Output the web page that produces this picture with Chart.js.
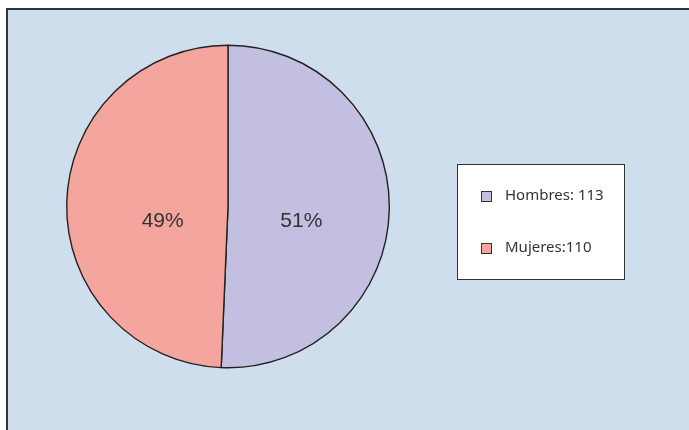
<!DOCTYPE html>
<html>
<head>
<meta charset="utf-8">
<script src="https://cdn.jsdelivr.net/npm/chart.js@4.4.0/dist/chart.umd.min.js"></script>
<style>
  html, body { margin: 0; padding: 0; background: #ffffff; }
  #wrap { width: 689px; height: 430px; }
</style>
</head>
<body>
<div id="wrap"><canvas id="graph" width="689" height="430"></canvas></div>
<script>
// pacientes por sexo
const categories = ["Hombres", "Mujeres"];
const legendTexts = ["Hombres: 113", "Mujeres:110"];
const values = [113, 110];
const sliceColors = ["#c3bfe0", "#f4a69e"];

// fondo azul con marco
const framePlugin = {
    id: "frame",
    beforeDraw(chart) {
        const ctx = chart.ctx;
        ctx.save();
        ctx.fillStyle = "#ffffff";
        ctx.fillRect(0, 0, chart.width, chart.height);
        ctx.fillStyle = "#cfdeed";
        ctx.fillRect(7, 9, chart.width - 7, chart.height - 9);
        ctx.strokeStyle = "#333333";
        ctx.lineWidth = 2;
        ctx.beginPath();
        ctx.moveTo(7, chart.height);
        ctx.lineTo(7, 9);
        ctx.lineTo(chart.width, 9);
        ctx.stroke();
        ctx.restore();
    }
};

// porcentajes dentro de cada sector y leyenda en recuadro
const labelsPlugin = {
    id: "sliceLabels",
    afterDraw(chart) {
        const ctx = chart.ctx;
        const meta = chart.getDatasetMeta(0);
        const data = chart.data.datasets[0].data;
        const total = data.reduce((a, b) => a + b, 0);
        ctx.save();
        ctx.fillStyle = "#333333";
        ctx.font = "21px 'Liberation Sans', Arial, sans-serif";
        ctx.textAlign = "center";
        ctx.textBaseline = "middle";
        meta.data.forEach((arc, i) => {
            const mid = (arc.startAngle + arc.endAngle) / 2;
            const x = arc.x + Math.cos(mid) * arc.outerRadius * 0.43 + 4;
            const y = arc.y + 15;
            ctx.fillText(Math.round(data[i] / total * 100) + "%", x, y);
        });

        // recuadro de la leyenda
        ctx.fillStyle = "#ffffff";
        ctx.fillRect(457, 164, 167, 115);
        ctx.strokeStyle = "#333333";
        ctx.lineWidth = 1;
        ctx.strokeRect(457.5, 164.5, 167, 115);
        ctx.font = "15px 'Noto Sans', sans-serif";
        ctx.textAlign = "left";
        ctx.textBaseline = "middle";
        legendTexts.forEach((t, i) => {
            const y = 196 + i * 52;
            ctx.fillStyle = sliceColors[i];
            ctx.fillRect(481.5, y - 4.5, 10, 10);
            ctx.strokeStyle = "#333333";
            ctx.strokeRect(481.5, y - 4.5, 10, 10);
            ctx.fillStyle = "#333333";
            ctx.fillText(t, 505, y);
        });
        ctx.restore();
    }
};

new Chart(document.getElementById("graph"), {
    type: "pie",
    data: {
        labels: categories,
        datasets: [{
            data: values,
            backgroundColor: sliceColors,
            borderColor: "#222222",
            borderWidth: 1.4
        }]
    },
    options: {
        responsive: false,
        animation: false,
        layout: { padding: { left: 66, right: 299, top: 44, bottom: 61 } },
        plugins: {
            legend: { display: false },
            tooltip: { enabled: false }
        }
    },
    plugins: [framePlugin, labelsPlugin]
});
</script>
</body>
</html>
